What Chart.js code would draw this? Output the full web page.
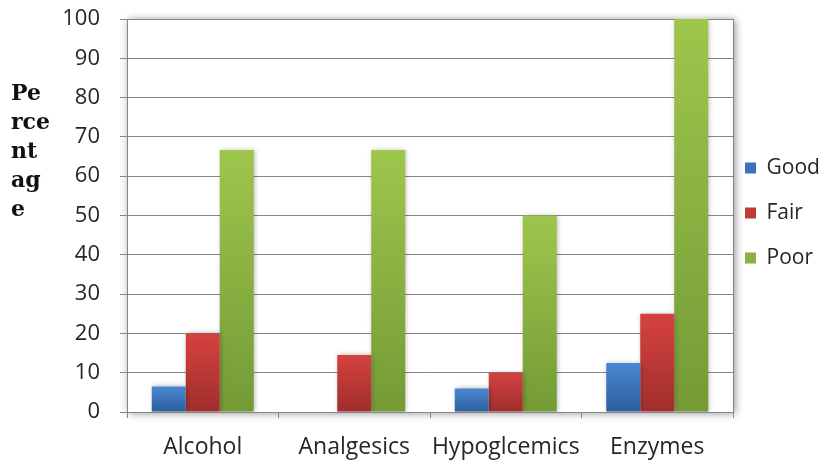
<!DOCTYPE html>
<html>
<head>
<meta charset="utf-8">
<script src="https://cdn.jsdelivr.net/npm/chart.js@4.4.1/dist/chart.umd.min.js"></script>
<style>
  html, body { margin: 0; padding: 0; background: #ffffff; }
  canvas { display: block; }
</style>
</head>
<body>
<canvas id="chart" width="819" height="461"></canvas>
<script>
// Drug groups on the x axis
const categories = ['Alcohol', 'Analgesics', 'Hypoglcemics', 'Enzymes'];

// Percentage of patients per rating
const good = [6.5, 0, 6, 12.5];
const fair = [20, 14.5, 10, 25];
const poor = [66.67, 66.67, 50, 100];

const seriesNames = ['Good', 'Fair', 'Poor'];
const yTitleLines = ['Pe', 'rce', 'nt', 'ag', 'e'];
const yMin = 0, yMax = 100, yStep = 10;

// top / bottom shades of each bar gradient, plus a flat legend swatch
const shades = {
  Good: ['#4a87d2', '#2c5e9d', '#3a72bb'],
  Fair: ['#d5423f', '#9f2e2c', '#c03a38'],
  Poor: ['#9ec64c', '#749a36', '#8ab141']
};

const GRID = '#868686';
const TEXT = '#262626';
Chart.defaults.font.family = "'Open Sans', sans-serif";

function barFill(top, bottom) {
  return (ctx) => {
    const chart = ctx.chart;
    if (!chart.chartArea || ctx.type !== 'data') return top;
    const ys = chart.scales.y;
    const y0 = ys.getPixelForValue(ctx.raw);
    const y1 = ys.getPixelForValue(0);
    if (y1 - y0 < 1) return top;
    const g = chart.ctx.createLinearGradient(0, y0, 0, y1);
    g.addColorStop(0, top);
    g.addColorStop(1, bottom);
    return g;
  };
}

function makeSet(name, values) {
  return {
    label: name,
    data: values,
    backgroundColor: barFill(shades[name][0], shades[name][1]),
    borderWidth: 0,
    categoryPercentage: 0.673,
    barPercentage: 1.0
  };
}

// white plot panel with a soft drop shadow, right frame edge, bar shadows
const panel = {
  id: 'panel',
  beforeDraw(chart) {
    const { ctx, chartArea: a } = chart;
    ctx.save();
    ctx.shadowColor = 'rgba(0,0,0,0.45)';
    ctx.shadowBlur = 8;
    ctx.shadowOffsetX = 2;
    ctx.shadowOffsetY = 1;
    ctx.fillStyle = '#ffffff';
    ctx.fillRect(a.left, a.top, a.right - a.left, a.bottom - a.top);
    ctx.restore();
  },
  beforeDatasetsDraw(chart) {
    const { ctx, chartArea: a } = chart;
    ctx.save();
    ctx.strokeStyle = GRID;
    ctx.lineWidth = 1;
    ctx.beginPath();
    ctx.moveTo(Math.round(a.right) + 0.5, a.top);
    ctx.lineTo(Math.round(a.right) + 0.5, a.bottom);
    ctx.stroke();
    ctx.restore();
    ctx.save();
    ctx.shadowColor = 'rgba(0,0,0,0.30)';
    ctx.shadowBlur = 5;
    ctx.shadowOffsetX = 1;
    ctx.shadowOffsetY = 0;
  },
  afterDatasetsDraw(chart) {
    chart.ctx.restore();
  },
  afterDraw(chart) {
    // stacked, word-broken vertical axis title
    const ctx = chart.ctx;
    ctx.save();
    ctx.fillStyle = '#111111';
    ctx.font = "bold 22px 'DejaVu Serif', serif";
    ctx.textAlign = 'left';
    ctx.textBaseline = 'alphabetic';
    yTitleLines.forEach((t, i) => ctx.fillText(t, 11, 100 + i * 29));
    ctx.restore();
  },
  afterLayout(chart) {
    // pull the legend swatches closer to the plot and up to mid-height
    const lg = chart.legend;
    if (lg) {
      lg.left -= 12;
      lg.top -= 27;
      lg.bottom -= 27;
    }
  }
};

new Chart(document.getElementById('chart'), {
  type: 'bar',
  data: {
    labels: categories,
    datasets: [
      makeSet(seriesNames[0], good),
      makeSet(seriesNames[1], fair),
      makeSet(seriesNames[2], poor)
    ]
  },
  options: {
    responsive: false,
    animation: false,
    layout: { padding: { top: 19, right: 0, bottom: 0, left: 0 } },
    plugins: {
      tooltip: { enabled: false },
      legend: {
        position: 'right',
        maxWidth: 86,
        labels: {
          boxWidth: 11,
          boxHeight: 11,
          padding: 24,
          color: TEXT,
          font: { size: 21 },
          generateLabels(chart) {
            return Chart.defaults.plugins.legend.labels.generateLabels(chart).map((item) => {
              item.fillStyle = shades[item.text][2];
              item.strokeStyle = 'rgba(0,0,0,0)';
              item.lineWidth = 0;
              return item;
            });
          }
        }
      }
    },
    scales: {
      x: {
        grid: {
          offset: true,
          drawOnChartArea: false,
          drawTicks: true,
          tickLength: 6,
          color: GRID
        },
        border: { display: true, color: GRID, width: 1 },
        ticks: { color: TEXT, font: { size: 23 }, padding: 16, maxRotation: 0, autoSkip: false },
        afterFit(s) { s.height = 49; }
      },
      y: {
        min: yMin,
        max: yMax,
        grid: { color: GRID, lineWidth: 1, drawTicks: true, tickLength: 7 },
        border: { display: true, color: GRID, width: 1 },
        ticks: { stepSize: yStep, color: TEXT, font: { size: 22 }, padding: 20 },
        afterFit(s) {
          s.width = 127;
          s.paddingTop = 0;
          s.paddingBottom = 0;
        }
      }
    }
  },
  plugins: [panel]
});
</script>
</body>
</html>
